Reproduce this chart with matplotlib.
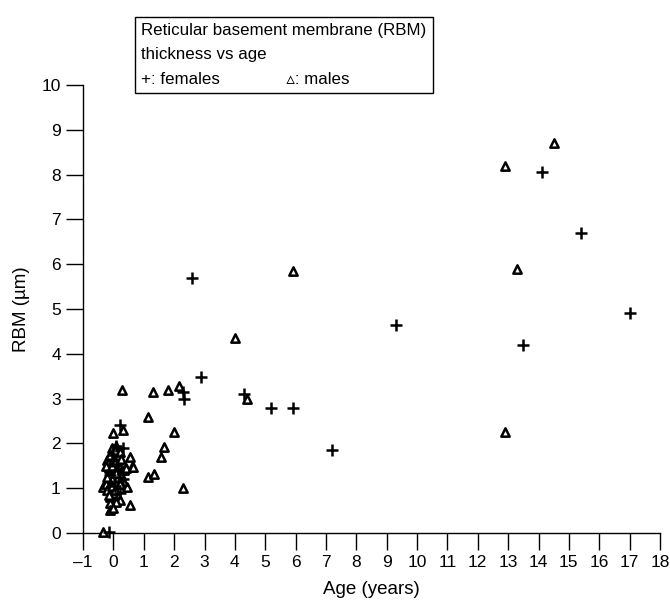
import numpy as np
import matplotlib
matplotlib.use("Agg")
import matplotlib.pyplot as plt

plt.rcParams["font.family"] = ["Liberation Sans", "DejaVu Sans"]

# Females (+): age in years, RBM thickness in um
female_age = [14.1, 15.4, 17.0, 13.5, 9.3, 2.6, 2.9, 4.3, 5.2, 5.9, 7.2,
              2.3, 2.33, 0.2, 0.33, 0.1, -0.05, 0.15, 0.3, 0.05, -0.15,
              -0.1, 0.2, 0.0, 0.12]
female_rbm = [8.05, 6.7, 4.9, 4.2, 4.65, 5.7, 3.48, 3.1, 2.8, 2.78, 1.85,
              3.15, 3.0, 2.4, 1.9, 1.95, 1.6, 1.4, 1.2, 1.05, 0.02,
              1.3, 0.9, 1.75, 1.55]

# Males (triangles)
male_age = [12.9, 14.5, 13.3, 12.9, 5.9, 4.0, 4.4, 2.15, 1.8, 1.3, 0.27,
            1.13, 2.0, 1.68, 1.55, 1.13, 1.32, 2.3, 0.56, 0.3, 0.0,
            -0.05, 0.1, 0.56, 0.62, -0.2, -0.33, 0.46, -0.1, -0.1, -0.1,
            0.23, -0.33, -0.25, 0.05, -0.15, 0.15, 0.25, -0.05, 0.1,
            -0.2, 0.0, 0.2, -0.1, 0.05, 0.35, -0.25, 0.1, 0.3, -0.05,
            0.15, 0.0, -0.15, 0.2, 0.4, 0.66, -0.1, 0.1, 0.25, -0.2,
            0.05, 0.2, -0.05]
male_rbm = [8.2, 8.7, 5.9, 2.25, 5.85, 4.35, 3.0, 3.28, 3.19, 3.15, 3.19,
            2.59, 2.25, 1.92, 1.7, 1.25, 1.32, 1.0, 0.62, 2.3, 2.23,
            1.9, 1.95, 1.7, 1.47, 1.63, 1.03, 1.03, 0.8, 0.67, 0.51,
            0.74, 0.02, 1.1, 1.85, 1.45, 1.55, 1.3, 1.2, 1.1,
            0.95, 0.9, 1.0, 1.35, 1.6, 1.4, 1.5, 0.7, 1.15, 1.05,
            1.25, 0.55, 0.85, 1.8, 1.45, 1.47, 1.75, 1.35, 1.65, 1.25,
            0.95, 1.1, 1.5]

xticks = list(range(-1, 19))
yticks = list(range(0, 11))

fig = plt.figure(figsize=(6.7, 6.0), dpi=100)
ax = fig.add_axes([0.124, 0.1117, 0.861, 0.7466])

ax.scatter(male_age, male_rbm, marker="^", s=36, facecolors="white",
           edgecolors="black", linewidths=1.8, clip_on=False, zorder=3)
ax.scatter(female_age, female_rbm, marker="+", s=70, color="black",
           linewidths=1.8, clip_on=False, zorder=4)

ax.set_xlim(-1, 18)
ax.set_ylim(0, 10)
ax.set_xticks(xticks)
ax.set_yticks(yticks)
ax.set_xticklabels(["\u20131" if t < 0 else str(t) for t in xticks])
ax.spines["top"].set_visible(False)
ax.spines["right"].set_visible(False)
for s in ("left", "bottom"):
    ax.spines[s].set_linewidth(1.0)
ax.tick_params(axis="both", direction="out", length=12, width=1.0,
               labelsize=12.5, pad=4)
ax.set_xlabel("Age (years)", fontsize=13.5, labelpad=8)
ax.set_ylabel("RBM (\u00b5m)", fontsize=13.5, labelpad=8)

fig.text(0.211, 0.909,
         "Reticular basement membrane (RBM)\nthickness vs age\n"
         "+: females              \u25b5: males",
         fontsize=12.2, va="center", ha="left", linespacing=1.8,
         bbox=dict(boxstyle="square,pad=0.35", facecolor="white",
                   edgecolor="black", linewidth=1.0))

fig.savefig("out.png", dpi=100)
